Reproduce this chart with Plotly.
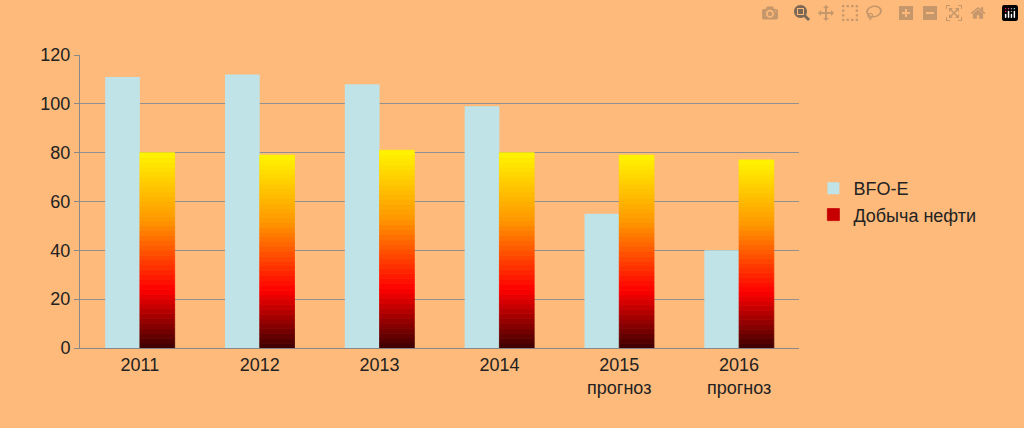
import plotly.graph_objects as go

categories = ["2011", "2012", "2013", "2014", "2015<br>прогноз", "2016<br>прогноз"]
bfo_e = [111, 112, 108, 99, 55, 40]
oil = [80, 79, 81, 80, 79, 77]

N = 40
def grad(t):
    stops = [(0.0, (60, 0, 0)), (0.3, (255, 0, 0)), (0.65, (255, 150, 0)), (1.0, (255, 245, 0))]
    for (a, ca), (b, cb) in zip(stops, stops[1:]):
        if a <= t <= b:
            f = (t - a) / (b - a)
            c = [int(ca[k] + (cb[k] - ca[k]) * f) for k in range(3)]
            return "rgb(%d,%d,%d)" % tuple(c)
    return "rgb(255,245,0)"

fig = go.Figure()
fig.add_bar(x=categories, y=bfo_e, name="BFO-E", offsetgroup="a",
            marker=dict(color="#BFE3E6", line=dict(width=0)))
for i in range(N):
    col = grad((i + 0.5) / N)
    fig.add_bar(x=categories, y=[v / N for v in oil], base=[v * i / N for v in oil],
                offsetgroup="b", name="Добыча нефти", showlegend=(i == 8),
                marker=dict(color=col, line=dict(width=0.8, color=col)),
                hoverinfo="skip")

fig.update_layout(
    width=1024, height=428, barmode="group", bargap=0.42, bargroupgap=0,
    paper_bgcolor="#FDBA7B", plot_bgcolor="#FDBA7B",
    margin=dict(l=80, r=225, t=55, b=80),
    font=dict(family="Liberation Sans, Arial", size=18, color="#222"),
    legend=dict(x=1.02, y=0.5, yanchor="middle", font=dict(size=18),
                bgcolor="rgba(0,0,0,0)"),
    xaxis=dict(showgrid=False, showline=True, linecolor="#888", tickfont=dict(size=18)),
    yaxis=dict(range=[0, 120], dtick=20, showgrid=True, gridcolor="#909090",
               showline=True, linecolor="#888", ticks="outside", tickcolor="#888",
               zeroline=False, tickfont=dict(size=18)),
)
fig.write_html("out.html")
with open("out.html", encoding="utf-8") as f:
    html = f.read()
html = html.replace("<head>", "<head><style>html,body{margin:0;padding:0;background:#FDBA7B;}</style>", 1)
with open("out.html", "w", encoding="utf-8") as f:
    f.write(html)
